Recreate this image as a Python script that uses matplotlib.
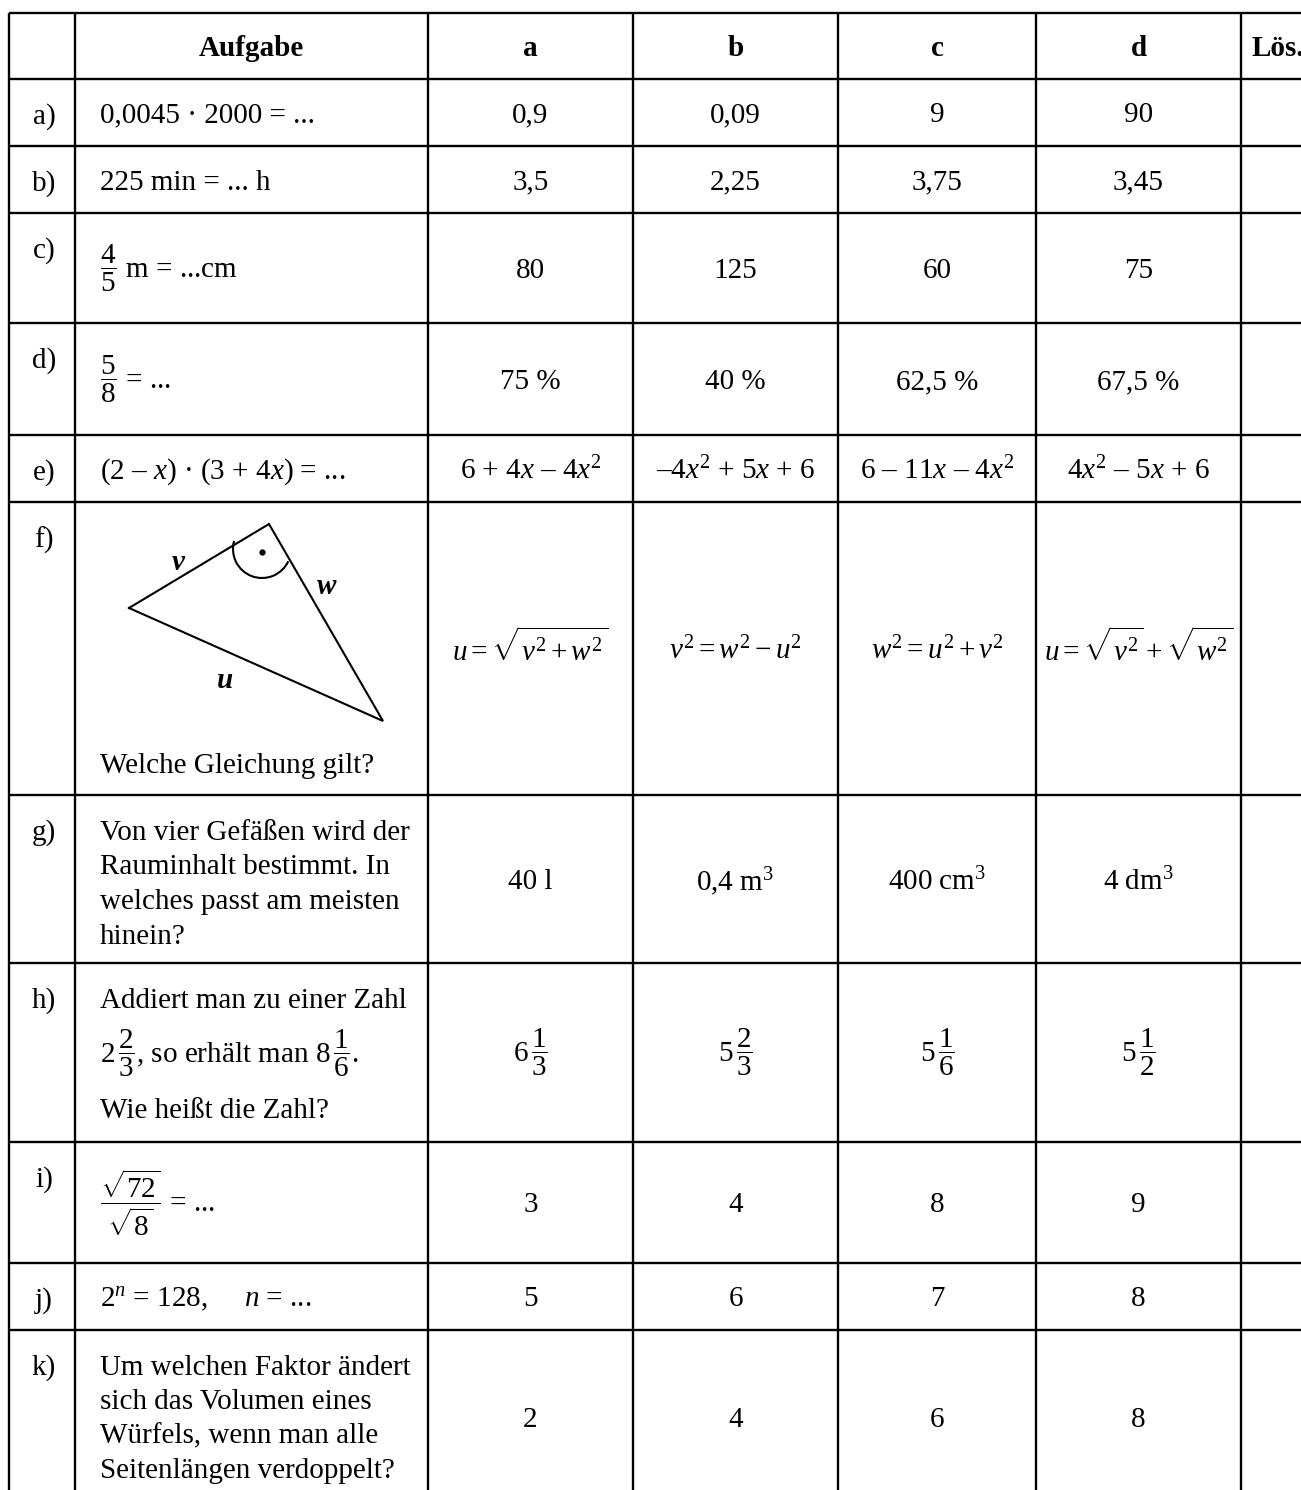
import matplotlib
matplotlib.use("Agg")
import matplotlib.pyplot as plt
from matplotlib.patches import Arc

plt.rcParams["font.family"] = ["Liberation Serif", "DejaVu Serif"]
plt.rcParams["mathtext.fontset"] = "custom"
plt.rcParams["mathtext.rm"] = "Liberation Serif"
plt.rcParams["mathtext.it"] = "Liberation Serif:italic"
plt.rcParams["mathtext.bf"] = "Liberation Serif:bold"

# --- table content ---
headers = ["Aufgabe", "a", "b", "c", "d", "Lös."]
row_labels = ["a)", "b)", "c)", "d)", "e)", "f)", "g)", "h)", "i)", "j)", "k)"]

questions = [
    ["0,0045 · 2000 = ..."],
    ["225 min = ... h"],
    [r"$\dfrac{4}{5}$ m = ...cm"],
    [r"$\dfrac{5}{8}$ = ..."],
    [r"(2 – $x$) · (3 + 4$x$) = ..."],
    ["Welche Gleichung gilt?"],
    ["Von vier Gefäßen wird der", "Rauminhalt bestimmt. In",
     "welches passt am meisten", "hinein?"],
    ["Addiert man zu einer Zahl",
     r"$2\,\dfrac{2}{3}$, so erhält man $8\,\dfrac{1}{6}$.",
     "Wie heißt die Zahl?"],
    [r"$\dfrac{\sqrt{72}}{\sqrt{8}}$ = ..."],
    [r"$2^n$ = 128,     $n$ = ..."],
    ["Um welchen Faktor ändert", "sich das Volumen eines",
     "Würfels, wenn man alle", "Seitenlängen verdoppelt?"],
]

opt_a = ["0,9", "3,5", "80", "75 %", r"6 + 4$x$ – 4$x^2$",
         r"$u = \sqrt{v^2 + w^2}$", "40 l", r"$6\,\dfrac{1}{3}$", "3", "5", "2"]
opt_b = ["0,09", "2,25", "125", "40 %", r"–4$x^2$ + 5$x$ + 6",
         r"$v^2 = w^2 - u^2$", r"0,4 $\mathrm{m}^3$", r"$5\,\dfrac{2}{3}$", "4", "6", "4"]
opt_c = ["9", "3,75", "60", "62,5 %", r"6 – 11$x$ – 4$x^2$",
         r"$w^2 = u^2 + v^2$", r"400 $\mathrm{cm}^3$", r"$5\,\dfrac{1}{6}$", "8", "7", "6"]
opt_d = ["90", "3,45", "75", "67,5 %", r"4$x^2$ – 5$x$ + 6",
         r"$u = \sqrt{v^2} + \sqrt{w^2}$", r"4 $\mathrm{dm}^3$", r"$5\,\dfrac{1}{2}$", "9", "8", "8"]

# triangle sketch in row f (pixel coords of the page)
tri_x = [129, 269, 383, 129]
tri_y = [608, 524, 721, 608]
side_names = ["v", "w", "u"]
side_x = [178, 327, 225]
side_y = [562, 587, 680]

# --- layout ---
W, H = 1301, 1490
col_x = [9, 75, 428, 633, 838, 1036, 1241, 1345]
row_y = [13, 79, 146, 213, 323, 435, 502, 795, 963, 1142, 1263, 1330, 1504]
line_step = {6: 34.5, 7: 55, 10: 34.2}
FS = 21
LW = 1.7
DY = 3  # plain text sits a bit lower than matplotlib's bbox centre


def is_frac(s):
    return "frac" in s or "sqrt" in s


fig = plt.figure(figsize=(W / 100, H / 100), dpi=100)
ax = fig.add_axes([0, 0, 1, 1])
ax.set_xlim(0, W)
ax.set_ylim(H, 0)
ax.axis("off")

for y in row_y:
    ax.plot([col_x[0], col_x[-1]], [y, y], color="black", lw=LW, solid_capstyle="butt")
for x in col_x:
    ax.plot([x, x], [row_y[0], row_y[-1]], color="black", lw=LW, solid_capstyle="butt")

# header
hy = (row_y[0] + row_y[1]) / 2 + DY
for i, h in enumerate(headers):
    if h == "Lös.":
        ax.text(col_x[6] + 10, hy, h, ha="left", va="center", fontsize=FS, fontweight="bold")
    else:
        cx = (col_x[i + 1] + col_x[i + 2]) / 2
        ax.text(cx, hy, h, ha="center", va="center", fontsize=FS, fontweight="bold")

options = [opt_a, opt_b, opt_c, opt_d]
for r in range(len(row_labels)):
    top, bot = row_y[r + 1], row_y[r + 2]
    mid = (top + bot) / 2
    ax.text((col_x[0] + col_x[1]) / 2 + 2, top + 35 + DY, row_labels[r],
            ha="center", va="center", fontsize=FS)
    lines = questions[r]
    if r == 5:
        ax.text(100, 763 + DY, lines[0], ha="left", va="center", fontsize=FS)
    elif len(lines) == 1:
        y = mid if is_frac(lines[0]) else mid + DY
        ax.text(100, y, lines[0], ha="left", va="center", fontsize=FS)
    else:
        step = line_step.get(r, 34.5)
        for k, ln in enumerate(lines):
            y = top + 35 + k * step
            y = y if is_frac(ln) else y + DY
            ax.text(100, y, ln, ha="left", va="center", fontsize=FS)
    for c, opts in enumerate(options):
        cx = (col_x[c + 2] + col_x[c + 3]) / 2
        y = mid if is_frac(opts[r]) else mid + DY
        ax.text(cx, y, opts[r], ha="center", va="center", fontsize=FS)

# triangle with right-angle mark
ax.plot(tri_x, tri_y, color="black", lw=1.5, solid_joinstyle="miter")
ax.add_patch(Arc((262, 549), 58, 58, theta1=25, theta2=196, color="black", lw=1.5))
ax.plot([262], [552], "o", color="black", markersize=3.5)
for name, sx, sy in zip(side_names, side_x, side_y):
    ax.text(sx, sy, name, ha="center", va="center", fontsize=FS,
            fontstyle="italic", fontweight="bold")

fig.savefig("out.png", dpi=100)
